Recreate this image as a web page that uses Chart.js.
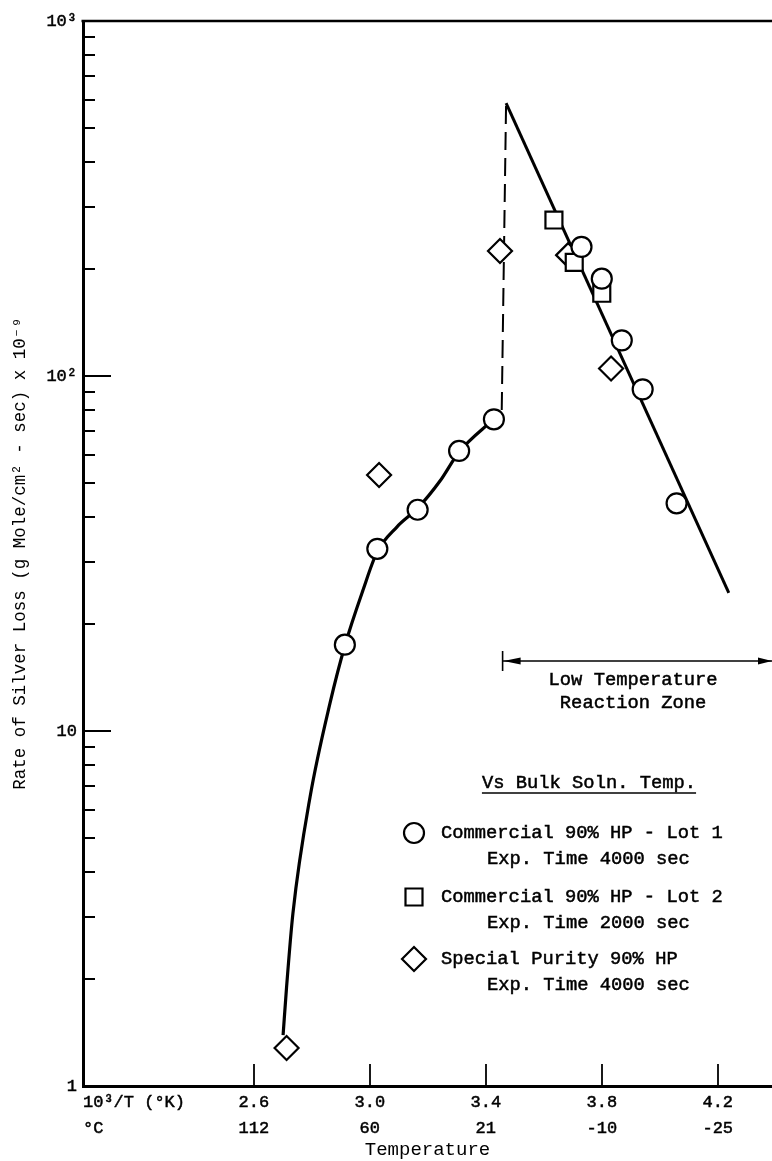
<!DOCTYPE html>
<html><head><meta charset="utf-8">
<style>html,body{margin:0;padding:0;background:#fff;}canvas{display:block;}</style>
<script src="https://cdn.jsdelivr.net/npm/chart.js@4.4.1/dist/chart.umd.min.js"></script>
</head><body>
<canvas id="c" width="772" height="1161"></canvas>
<script>
// ---- data ----
const lot1X = [2.914, 3.026, 3.165, 3.308, 3.428, 3.730, 3.800, 3.869, 3.941, 4.058];
const lot1Y = [17.5, 32.6, 42.0, 61.5, 75.5, 231, 188, 126, 91.7, 43.8];
const lot2X = [3.635, 3.705, 3.800];
const lot2Y = [275, 209, 171];
const specX = [2.713, 3.032, 3.449, 3.684, 3.832];
const specY = [1.28, 52.6, 225, 219, 105];
const curveX = [2.701, 2.713, 2.735, 2.794, 2.863, 2.915, 2.977, 3.025, 3.094, 3.166, 3.242, 3.308, 3.428];
const curveY = [1.39, 1.90, 3.07, 6.52, 12.0, 17.5, 25.0, 31.9, 37.6, 42.5, 50.6, 61.1, 75.7];
const dashX = [3.455, 3.470];
const dashY = [80.2, 587];
const lowLineX = [3.470, 4.238];
const lowLineY = [587, 24.5];
const xTickValues = [2.6, 3.0, 3.4, 3.8, 4.2];
const xTickLabels = ['2.6', '3.0', '3.4', '3.8', '4.2'];
const celsiusLabels = ['112', '60', '21', '-10', '-25'];
const yTickValues = [1, 10, 100, 1000];
const yTickLabels = ['1', '10', '10²', '10³'];
const yMinorDecades = [1, 10, 100];
const yMinorMultipliers = [2, 3, 4, 5, 6, 7, 8, 9];
const yMajorInner = [10, 100];
const zoneStartX = 3.458;
const zoneY = 15.7;
const zoneLabelX = 3.908;
const legendTitle = 'Vs Bulk Soln. Temp.';
const legendItems = [
  {style: 'circle', lines: ['Commercial 90% HP - Lot 1', 'Exp. Time 4000 sec']},
  {style: 'rect', lines: ['Commercial 90% HP - Lot 2', 'Exp. Time 2000 sec']},
  {style: 'diamond', lines: ['Special Purity 90% HP', 'Exp. Time 4000 sec']}
];

const FONT = '"Liberation Mono", "DejaVu Sans Mono", monospace';
const pts = (xs, ys) => xs.map((v, i) => ({x: v, y: ys[i]}));

function marker(ctx, style, cx, cy) {
  ctx.save();
  ctx.fillStyle = '#fff'; ctx.strokeStyle = '#000'; ctx.lineWidth = 2.2;
  ctx.beginPath();
  if (style === 'circle') ctx.arc(cx, cy, 10, 0, Math.PI * 2);
  else if (style === 'rect') ctx.rect(cx - 8.5, cy - 8.5, 17, 17);
  else { ctx.moveTo(cx - 12, cy); ctx.lineTo(cx, cy - 12); ctx.lineTo(cx + 12, cy); ctx.lineTo(cx, cy + 12); ctx.closePath(); }
  ctx.fill(); ctx.stroke();
  ctx.restore();
}

function boldText(ctx, t, x, y) {
  ctx.fillText(t, x, y);
  ctx.strokeText(t, x, y);
}

const overlay = {
  id: 'overlay',
  afterDraw(chart) {
    const {ctx, chartArea: a, scales: {x, y}} = chart;
    ctx.save();
    ctx.strokeStyle = '#000'; ctx.fillStyle = '#000';
    // top frame
    ctx.lineWidth = 2.5;
    ctx.beginPath(); ctx.moveTo(a.left - 1.5, a.top); ctx.lineTo(a.right, a.top); ctx.stroke();
    // y minor ticks (inside)
    ctx.lineWidth = 2;
    yMinorDecades.forEach(d => yMinorMultipliers.forEach(m => {
      const py = Math.round(y.getPixelForValue(d * m));
      ctx.beginPath(); ctx.moveTo(a.left, py); ctx.lineTo(a.left + 12, py); ctx.stroke();
    }));
    yMajorInner.forEach(v => {
      const py = Math.round(y.getPixelForValue(v));
      ctx.beginPath(); ctx.moveTo(a.left, py); ctx.lineTo(a.left + 28, py); ctx.stroke();
    });
    // x ticks (inside)
    ctx.lineWidth = 1.8;
    xTickValues.forEach(v => {
      const px = Math.round(x.getPixelForValue(v));
      ctx.beginPath(); ctx.moveTo(px, a.bottom); ctx.lineTo(px, a.bottom - 22); ctx.stroke();
    });
    // x axis row captions
    ctx.lineWidth = 0.5;
    ctx.font = '17px ' + FONT; ctx.textAlign = 'left'; ctx.textBaseline = 'middle';
    boldText(ctx, '10³/T (°K)', a.left, a.bottom + 16);
    boldText(ctx, '°C', a.left, a.bottom + 42);
    // low temperature reaction zone arrow
    const zx = x.getPixelForValue(zoneStartX), zy = Math.round(y.getPixelForValue(zoneY));
    ctx.lineWidth = 1.6;
    ctx.beginPath(); ctx.moveTo(zx, zy); ctx.lineTo(a.right, zy); ctx.stroke();
    ctx.beginPath(); ctx.moveTo(zx, zy - 10); ctx.lineTo(zx, zy + 10); ctx.stroke();
    ctx.beginPath(); ctx.moveTo(zx + 1, zy); ctx.lineTo(zx + 18, zy - 3.5); ctx.lineTo(zx + 18, zy + 3.5); ctx.closePath(); ctx.fill();
    ctx.beginPath(); ctx.moveTo(a.right, zy); ctx.lineTo(a.right - 14, zy - 3.5); ctx.lineTo(a.right - 14, zy + 3.5); ctx.closePath(); ctx.fill();
    const lx = x.getPixelForValue(zoneLabelX);
    ctx.lineWidth = 0.5;
    ctx.font = '18.8px ' + FONT; ctx.textAlign = 'center';
    boldText(ctx, 'Low Temperature', lx, zy + 19);
    boldText(ctx, 'Reaction Zone', lx, zy + 42);
    // legend
    ctx.textAlign = 'center';
    boldText(ctx, legendTitle, 589, 783);
    const tw = ctx.measureText(legendTitle).width;
    ctx.lineWidth = 1.5;
    ctx.beginPath(); ctx.moveTo(589 - tw / 2, 793); ctx.lineTo(589 + tw / 2, 793); ctx.stroke();
    ctx.textAlign = 'left';
    const rows = [833, 897, 959];
    legendItems.forEach((it, i) => {
      marker(ctx, it.style, 414, rows[i]);
      ctx.fillStyle = '#000'; ctx.strokeStyle = '#000'; ctx.lineWidth = 0.5;
      boldText(ctx, it.lines[0], 441, rows[i]);
      boldText(ctx, it.lines[1], 487, rows[i] + 26);
    });
    ctx.restore();
  }
};

const markerBase = {showLine: false, backgroundColor: '#fff', borderColor: '#000', pointBackgroundColor: '#fff', pointBorderColor: '#000', pointBorderWidth: 2.2, order: 0};
const lineBase = {showLine: true, pointRadius: 0, borderColor: '#000', backgroundColor: '#000', fill: false, order: 5};

new Chart(document.getElementById('c'), {
  type: 'scatter',
  data: {
    datasets: [
      Object.assign({label: 'Commercial 90% HP - Lot 1', data: pts(lot1X, lot1Y), pointStyle: 'circle', pointRadius: 10}, markerBase),
      Object.assign({label: 'Commercial 90% HP - Lot 2', data: pts(lot2X, lot2Y), pointStyle: 'rect', pointRadius: 12}, markerBase),
      Object.assign({label: 'Special Purity 90% HP', data: pts(specX, specY), pointStyle: 'rectRot', pointRadius: 12}, markerBase),
      Object.assign({label: 'curve', data: pts(curveX, curveY), borderWidth: 3.2, cubicInterpolationMode: 'monotone'}, lineBase),
      Object.assign({label: 'dashed', data: pts(dashX, dashY), borderWidth: 2, borderDash: [18, 8]}, lineBase),
      Object.assign({label: 'low', data: pts(lowLineX, lowLineY), borderWidth: 3}, lineBase)
    ]
  },
  options: {
    responsive: false, animation: false, devicePixelRatio: 1,
    layout: {autoPadding: false, padding: {top: 21, right: 0, left: 0, bottom: 0}},
    plugins: {legend: {display: false}, tooltip: {enabled: false}},
    scales: {
      x: {
        type: 'linear', position: 'bottom', min: 2.011, max: 4.387,
        grid: {display: false, drawTicks: false},
        border: {display: true, color: '#000', width: 3},
        afterBuildTicks: s => { s.ticks = xTickValues.map(v => ({value: v})); },
        ticks: {
          callback: (v, i) => [xTickLabels[i], celsiusLabels[i]],
          font: {family: FONT, size: 17, lineHeight: 1.55}, color: '#000',
          textStrokeColor: '#000', textStrokeWidth: 0.5,
          padding: 3, maxRotation: 0, autoSkip: false
        },
        title: {display: true, text: 'Temperature', color: '#000', font: {family: FONT, size: 19}, padding: {top: 0, bottom: 0}},
        afterFit: s => { s.height = 75; s.paddingLeft = 0; s.paddingRight = 0; }
      },
      y: {
        type: 'logarithmic', position: 'left', min: 1, max: 1000,
        grid: {display: false, drawTicks: false},
        border: {display: true, color: '#000', width: 3},
        afterBuildTicks: s => { s.ticks = yTickValues.map(v => ({value: v})); },
        ticks: {callback: (v, i) => yTickLabels[i], font: {family: FONT, size: 17}, color: '#000', textStrokeColor: '#000', textStrokeWidth: 0.5, padding: 6, autoSkip: false},
        title: {display: true, text: 'Rate of Silver Loss (g Mole/cm² - sec) x 10⁻⁹', color: '#000', font: {family: FONT, size: 17.5}, padding: {top: 10, bottom: 0}},
        afterFit: s => { s.width = 83; s.paddingTop = 0; s.paddingBottom = 0; }
      }
    }
  },
  plugins: [overlay]
});
</script>
</body></html>
